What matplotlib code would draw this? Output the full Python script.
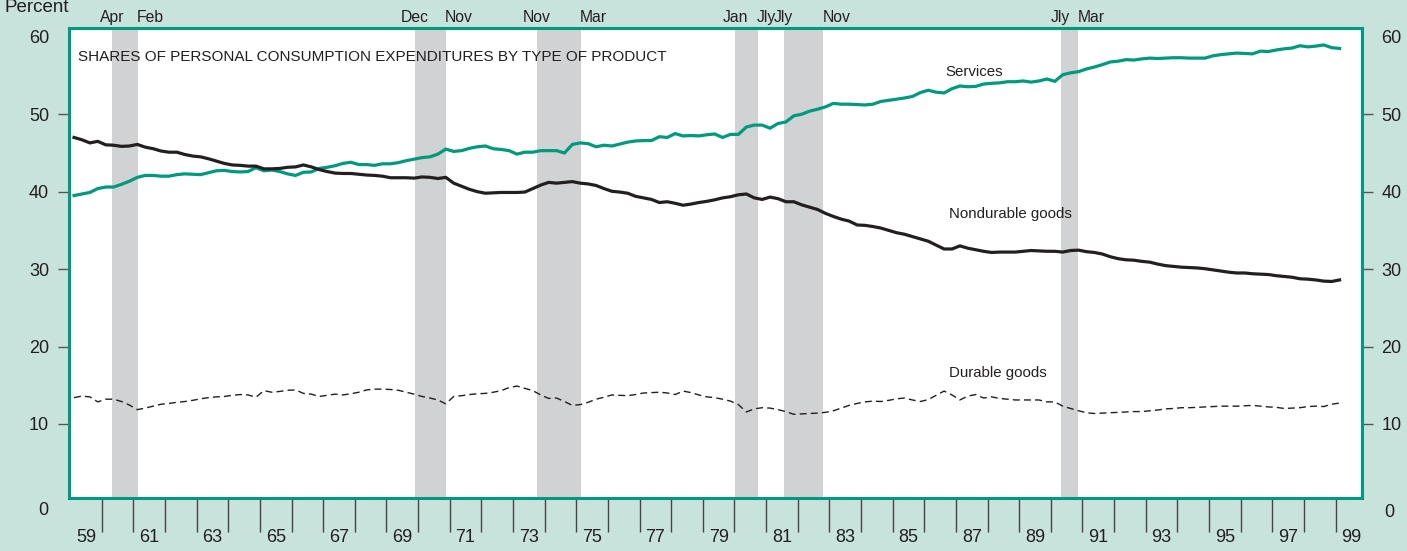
import matplotlib
matplotlib.use("Agg")
import matplotlib.pyplot as plt
from matplotlib import font_manager
import numpy as np

plt.rcParams['font.family'] = ['Liberation Sans', 'DejaVu Sans']

# quarterly shares (percent), 1959Q1 .. 1999Q1
services = [
    39.5, 39.7, 39.9, 40.4,      # 59
    40.6, 40.6, 40.95, 41.35,    # 60
    41.85, 42.1, 42.1, 42.0,     # 61
    42.0, 42.2, 42.3, 42.25,     # 62
    42.2, 42.45, 42.7, 42.75,    # 63
    42.6, 42.55, 42.6, 43.1,     # 64
    42.7, 42.8, 42.6, 42.3,      # 65
    42.1, 42.5, 42.55, 43.0,     # 66
    43.15, 43.35, 43.65, 43.8,   # 67
    43.5, 43.5, 43.4, 43.6,      # 68
    43.6, 43.75, 44.0, 44.2,     # 69
    44.4, 44.5, 44.85, 45.5,     # 70
    45.2, 45.3, 45.6, 45.8,      # 71
    45.9, 45.55, 45.45, 45.3,    # 72
    44.85, 45.1, 45.1, 45.3,     # 73
    45.3, 45.3, 45.0, 46.1,      # 74
    46.3, 46.2, 45.8, 46.0,      # 75
    45.9, 46.15, 46.4, 46.55,    # 76
    46.6, 46.6, 47.1, 47.0,      # 77
    47.5, 47.2, 47.25, 47.2,     # 78
    47.35, 47.45, 47.0, 47.4,    # 79
    47.4, 48.35, 48.6, 48.6,     # 80
    48.2, 48.8, 49.0, 49.8,      # 81
    50.0, 50.4, 50.65, 50.95,    # 82
    51.4, 51.3, 51.3, 51.25,     # 83
    51.2, 51.3, 51.65, 51.8,     # 84
    51.95, 52.1, 52.3, 52.8,     # 85
    53.1, 52.85, 52.75, 53.3,    # 86
    53.65, 53.55, 53.6, 53.9,    # 87
    54.0, 54.05, 54.2, 54.2,     # 88
    54.3, 54.15, 54.3, 54.55,    # 89
    54.25, 55.1, 55.35, 55.5,    # 90
    55.85, 56.1, 56.4, 56.75,    # 91
    56.85, 57.05, 57.0, 57.15,   # 92
    57.25, 57.2, 57.25, 57.3,    # 93
    57.3, 57.25, 57.25, 57.25,   # 94
    57.55, 57.7, 57.8, 57.9,     # 95
    57.85, 57.8, 58.15, 58.1,    # 96
    58.3, 58.45, 58.55, 58.85,   # 97
    58.7, 58.8, 58.95, 58.6,     # 98
    58.5,                        # 99
]

nondurable = [
    47.0, 46.7, 46.3, 46.5,
    46.05, 46.0, 45.85, 45.9,
    46.1, 45.75, 45.55, 45.25,
    45.1, 45.1, 44.8, 44.6,
    44.5, 44.25, 43.95, 43.65,
    43.45, 43.4, 43.3, 43.3,
    42.95, 42.95, 43.0, 43.15,
    43.2, 43.45, 43.2, 42.85,
    42.6, 42.4, 42.35, 42.35,
    42.25, 42.15, 42.1, 42.0,
    41.8, 41.8, 41.8, 41.75,
    41.9, 41.85, 41.7, 41.85,
    41.1, 40.7, 40.3, 40.0,
    39.8, 39.85, 39.9, 39.9,
    39.9, 39.95, 40.4, 40.85,
    41.2, 41.1, 41.2, 41.3,
    41.1, 41.0, 40.8, 40.4,
    40.05, 39.95, 39.8, 39.4,
    39.2, 39.0, 38.6, 38.7,
    38.5, 38.25, 38.4, 38.6,
    38.75, 38.95, 39.2, 39.35,
    39.6, 39.7, 39.2, 39.0,
    39.3, 39.1, 38.7, 38.7,
    38.3, 38.0, 37.7, 37.2,
    36.8, 36.45, 36.2, 35.7,
    35.65, 35.5, 35.3, 35.0,
    34.7, 34.5, 34.2, 33.9,
    33.6, 33.1, 32.6, 32.6,
    33.0, 32.7, 32.5, 32.3,
    32.15, 32.2, 32.2, 32.2,
    32.3, 32.4, 32.35, 32.3,
    32.3, 32.2, 32.4, 32.45,
    32.25, 32.15, 31.95, 31.6,
    31.35, 31.2, 31.15, 31.0,
    30.9, 30.65, 30.45, 30.35,
    30.25, 30.2, 30.15, 30.05,
    29.9, 29.75, 29.6, 29.5,
    29.5, 29.4, 29.35, 29.3,
    29.15, 29.05, 28.95, 28.75,
    28.7, 28.6, 28.45, 28.4,
    28.6,
]

durable = [
    13.4, 13.6, 13.5, 12.85,
    13.2, 13.2, 12.9, 12.45,
    11.85, 12.05, 12.3, 12.55,
    12.65, 12.8, 12.9, 13.05,
    13.25, 13.4, 13.5, 13.55,
    13.7, 13.8, 13.75, 13.45,
    14.3, 14.1, 14.2, 14.35,
    14.4, 13.95, 13.85, 13.55,
    13.7, 13.85, 13.75, 13.9,
    14.1, 14.4, 14.5, 14.5,
    14.45, 14.35, 14.1, 13.85,
    13.55, 13.35, 13.1, 12.6,
    13.55, 13.65, 13.8, 13.9,
    13.95, 14.1, 14.3, 14.7,
    14.9, 14.6, 14.3, 13.75,
    13.3, 13.35, 12.9, 12.4,
    12.5, 12.8, 13.2, 13.45,
    13.75, 13.7, 13.65, 13.8,
    14.0, 14.05, 14.1, 14.0,
    13.8, 14.25, 14.05, 13.75,
    13.5, 13.4, 13.2, 12.95,
    12.5, 11.55, 11.95, 12.1,
    12.05, 11.85, 11.6, 11.25,
    11.3, 11.35, 11.4, 11.5,
    11.7, 12.05, 12.4, 12.65,
    12.85, 12.95, 12.9, 13.05,
    13.25, 13.35, 13.1, 12.9,
    13.15, 13.7, 14.25, 13.75,
    13.1, 13.6, 13.8, 13.35,
    13.5, 13.3, 13.2, 13.1,
    13.1, 13.1, 13.1, 12.85,
    12.85, 12.3, 12.0, 11.7,
    11.45, 11.35, 11.4, 11.45,
    11.5, 11.55, 11.6, 11.6,
    11.7, 11.8, 11.95, 12.0,
    12.1, 12.1, 12.15, 12.2,
    12.25, 12.3, 12.3, 12.3,
    12.35, 12.4, 12.3, 12.2,
    12.15, 12.0, 12.05, 12.1,
    12.25, 12.3, 12.25, 12.55,
    12.7,
]

# recessions (decimal years) and their month labels
rec_start = [1960.33, 1969.90, 1973.76, 1980.02, 1981.56, 1990.31]
rec_end = [1961.14, 1970.87, 1975.14, 1980.73, 1982.81, 1990.87]
rec_start_lbl = ['Apr', 'Dec', 'Nov', 'Jan', 'Jly', 'Jly']
rec_end_lbl = ['Feb', 'Nov', 'Mar', 'Jly', 'Nov', 'Mar']

teal = '#009a7c'
bg = '#c8e3dc'
ink = '#231f20'
shade = '#d1d2d4'

# narrow face for the condensed labels, if there is one
names = {f.name for f in font_manager.fontManager.ttflist}
if 'Liberation Sans Narrow' in names:
    nfam = ['Liberation Sans Narrow', 'Liberation Sans']
    k = 1 / 0.82
else:
    nfam = ['Liberation Sans', 'DejaVu Sans']
    k = 1.0

t = 1959.125 + 0.25 * np.arange(len(services))

fig = plt.figure(figsize=(14.07, 5.51), dpi=100, facecolor=bg)
ax = fig.add_axes([68.5 / 1407, 1 - 498.3 / 551, 1293.2 / 1407, 470 / 551])
ax.set_facecolor('white')
ax.set_xlim(1958.95, 1999.825)
ax.set_ylim(0.4, 61.1)

for s, e in zip(rec_start, rec_end):
    ax.axvspan(s, e, color=shade, lw=0, zorder=1)

ax.plot(t, services, color=teal, lw=2.3, zorder=3, solid_joinstyle='miter')
ax.plot(t, nondurable, color=ink, lw=2.3, zorder=3, solid_joinstyle='miter')
ax.plot(t, durable, color=ink, lw=1.0, ls=(0, (5, 3)), zorder=3)

for sp in ax.spines.values():
    sp.set_color(teal)
    sp.set_linewidth(2.2)
    sp.set_zorder(5)

# y axis: ticks on both sides
ax.set_yticks([10, 20, 30, 40, 50])
ax.set_yticklabels(['10', '20', '30', '40', '50'])
ax.set_yticks([60], minor=True)
ax.set_yticklabels(['60'], minor=True)
ax.tick_params(axis='y', which='major', left=True, right=True, labelleft=True,
               labelright=True, length=8, width=1, color='#555555', pad=6,
               labelsize=13, labelcolor=ink)
ax.tick_params(axis='y', which='minor', left=True, right=True, labelleft=True,
               labelright=True, length=0, pad=14, labelsize=13, labelcolor=ink)
ax.text(-0.0155, -1.15, '0', transform=ax.get_yaxis_transform(), ha='right',
        va='center', fontsize=13, color=ink, clip_on=False)
ax.text(1.0175, -1.4, '0', transform=ax.get_yaxis_transform(), ha='left',
        va='center', fontsize=13, color=ink, clip_on=False)

# x axis: long year ticks, labels on odd years between ticks
ax.set_xticks(np.arange(1960, 2000))
ax.set_xticklabels([])
odd = np.arange(1959, 2000, 2)
ax.set_xticks(odd + 0.5, minor=True)
ax.set_xticklabels(["%02d" % (y % 100) for y in odd], minor=True)
ax.tick_params(axis='x', which='major', length=24.5, width=1, color='#444444')
ax.tick_params(axis='x', which='minor', length=0, pad=22, labelsize=13,
               labelcolor=ink)

# recession month labels above frame
for s, e, a, b in zip(rec_start, rec_end, rec_start_lbl, rec_end_lbl):
    ax.text(s, 1.024, a, transform=ax.get_xaxis_transform(), ha='center',
            va='center', fontsize=11.3 * k, color=ink, family=nfam)
    ax.text(e - 0.03, 1.024, b, transform=ax.get_xaxis_transform(), ha='left',
            va='center', fontsize=11.3 * k, color=ink, family=nfam)

fig.text(5 / 1407, 1 - 12.5 / 551, 'Percent', ha='left', va='baseline',
         fontsize=13.5, color=ink)

ax.text(0.0073, 0.9304, 'SHARES OF PERSONAL CONSUMPTION EXPENDITURES BY TYPE OF PRODUCT',
        transform=ax.transAxes, ha='left', va='baseline', fontsize=11 * k,
        color=ink, family=nfam)

ax.text(1986.65, 54.9, 'Services', ha='left', va='baseline',
        fontsize=10.8 * k, color=ink, family=nfam)
ax.text(1986.78, 36.6, 'Nondurable goods', ha='left', va='baseline',
        fontsize=10.8 * k, color=ink, family=nfam)
ax.text(1986.78, 16.1, 'Durable goods', ha='left', va='baseline',
        fontsize=10.8 * k, color=ink, family=nfam)

fig.savefig('out.png', dpi=100, facecolor=bg)
